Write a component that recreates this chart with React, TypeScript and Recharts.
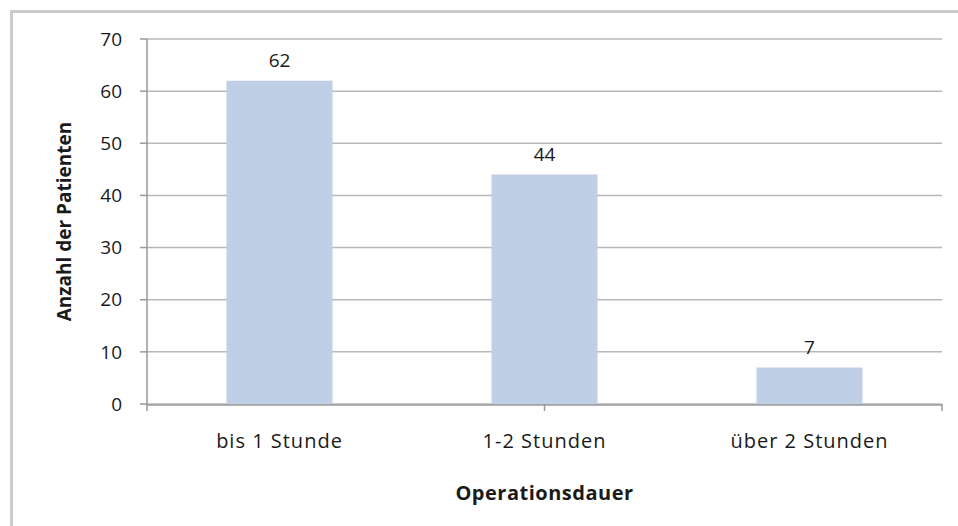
import { BarChart, Bar, XAxis, YAxis, CartesianGrid, LabelList } from "recharts";

const categories = ["bis 1 Stunde", "1-2 Stunden", "über 2 Stunden"];
const patients = [62, 44, 7];
const yTicks = [0, 10, 20, 30, 40, 50, 60, 70];
const boundaryTicks = [0, 1, 2, 3];

const data = categories.map((name, i) => ({ name, value: patients[i] }));

const font = "'Open Sans', sans-serif";
const textColor = "#1a1a1a";

export default function App() {
  return (
    <div style={{ position: "absolute", left: 0, top: 0, width: 958, height: 526, overflow: "hidden", background: "#fff" }}>
      <div
        style={{
          position: "absolute",
          left: 10,
          top: 10,
          width: 1000,
          height: 600,
          border: "3px solid #cccccc",
          boxSizing: "border-box",
        }}
      />
      <div style={{ position: "absolute", left: 0, top: 0 }}>
        <BarChart
          width={958}
          height={526}
          data={data}
          margin={{ top: 39, right: 16, left: 0, bottom: 22 }}
          barCategoryGap="30%"
          style={{ fontFamily: font }}
        >
          <CartesianGrid xAxisId="b" vertical={false} stroke="#b8b8b8" strokeWidth={1.5} />
          {/* tick marks sit on the category boundaries, not the centres */}
          <XAxis
            xAxisId="a"
            type="number"
            domain={[0, 3]}
            ticks={boundaryTicks}
            interval={0}
            allowDataOverflow
            height={1}
            axisLine={false}
            tick={() => <g />}
            tickSize={7}
            tickLine={{ stroke: "#999", strokeWidth: 1.5 }}
          />
          <XAxis
            xAxisId="b"
            dataKey="name"
            height={99}
            axisLine={{ stroke: "#999", strokeWidth: 1.5 }}
            tickLine={false}
            tick={{ fontSize: 20, fill: textColor, letterSpacing: 1 }}
            tickMargin={23}
            label={{
              value: "Operationsdauer",
              position: "insideBottom",
              offset: 4,
              style: { fontSize: 20, fontWeight: 700, fill: textColor, letterSpacing: 0.5 },
            }}
          />
          <YAxis
            width={147}
            domain={[0, 70]}
            ticks={yTicks}
            interval={0}
            axisLine={{ stroke: "#999", strokeWidth: 1.5 }}
            tickLine={{ stroke: "#999", strokeWidth: 1.5 }}
            tickSize={7}
            tickMargin={18}
            tick={{ fontSize: 19, fill: textColor }}
            label={{
              value: "Anzahl der Patienten",
              angle: -90,
              position: "insideLeft",
              offset: 64,
              style: { fontSize: 19, fontWeight: 700, fill: textColor, textAnchor: "middle" },
            }}
          />
          <Bar xAxisId="b" dataKey="value" fill="#bfd0e6" isAnimationActive={false}>
            <LabelList dataKey="value" position="top" offset={14} style={{ fontSize: 19, fill: textColor }} />
          </Bar>
        </BarChart>
      </div>
    </div>
  );
}
